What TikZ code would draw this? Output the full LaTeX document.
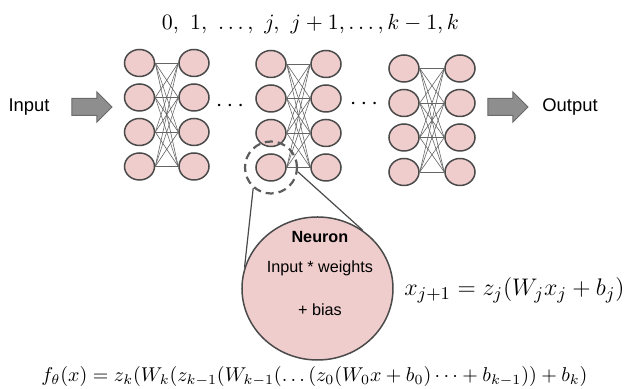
\documentclass[tikz,border=0pt]{standalone}
\usepackage{amsmath,amssymb}
\usepackage{fontspec}
\setsansfont{Liberation Sans}
\usetikzlibrary{positioning,shapes.geometric,calc}
\definecolor{cellfill}{HTML}{F0CDCD}
\definecolor{cellline}{HTML}{4A4A4A}
\definecolor{flowgray}{HTML}{8E8E8E}

\begin{document}
\begin{tikzpicture}[x=0.5pt,y=-0.5pt,
  unit/.style={ellipse, draw=cellline, fill=cellfill, line width=0.75pt, minimum width=15pt, minimum height=13.5pt, inner sep=0pt},
  wire/.style={draw=cellline!85, line width=0.3pt},
  flowshape/.style={draw=flowgray!75!black, fill=flowgray, line width=0.5pt},
  lbl/.style={font=\sffamily\fontsize{9.2}{11}\selectfont, inner sep=0pt},
  ntext/.style={font=\sffamily\fontsize{8.1}{10}\selectfont, inner sep=0pt},
  mathtxt/.style={font=\fontsize{#1}{14}\selectfont, inner sep=0pt},
  mathtxt/.default=12]
  \useasboundingbox (0,0) rectangle (629,389);

  % layers of units, fully wired
  \foreach \l/\xa/\xb/\ytop in {1/139.5/194/63, 2/271/326/64, 3/404/460/68.5} {
    \foreach \r in {1,...,4} {
      \node[unit] (a\l-\r) at (\xa,{\ytop+34.5*(\r-1)}) {};
      \node[unit] (b\l-\r) at (\xb,{\ytop+34.5*(\r-1)}) {};
    }
    \foreach \r in {1,...,4}
      \foreach \s in {1,...,4}
        \draw[wire] (a\l-\r.east) -- (b\l-\s.west);
  }
  \node[mathtxt] (gapa) at (232,106) {$\cdots$};
  \node[mathtxt] (gapb) at (366,104) {$\cdots$};
  \node[mathtxt=11.4] (layeridx) at (310.5,24) {$0,\ 1,\ \ldots,\ j,\ j+1,\ldots,k-1,k$};

  % input and output
  \node[lbl] (inlabel) at (29,107) {Input};
  \node[lbl] (outlabel) at (570,107) {Output};
  \coordinate (inflow) at (72,107);
  \coordinate (outflow) at (488,107);
  \foreach \c in {inflow,outflow}
    \draw[flowshape] (\c) ++(0,-8.5) -- ++(25,0) -- ++(0,-6.5) -- ++(15,15) -- ++(-15,15) -- ++(0,-6.5) -- ++(-25,0) -- cycle;

  % one unit blown up
  \node[circle, draw=cellline!90, dashed, line width=1.1pt, dash pattern=on 4pt off 2.5pt, minimum size=26pt] (zoomring) at (a2-4) {};
  \node[ellipse, draw=cellline, fill=cellfill, line width=0.75pt, minimum width=75.5pt, minimum height=71.5pt] (neuron) at (317.5,288.5) {};
  \draw[cellline, line width=0.6pt] (zoomring.229) -- (neuron.164);
  \draw[cellline, line width=0.6pt] (zoomring.351) -- (neuron.52);
  \node[ntext, font=\sffamily\bfseries\fontsize{8.1}{10}\selectfont] (ntitle) at ([xshift=1.2pt,yshift=25.75pt]neuron.center) {Neuron};
  \node[ntext] (nweights) at ([xshift=1.2pt,yshift=10.25pt]neuron.center) {Input * weights};
  \node[ntext] (nbias) at ([xshift=1.2pt,yshift=-10.75pt]neuron.center) {+ bias};

  \node[mathtxt=12.7] (steprule) at (514.5,290) {$x_{j+1} = z_j(W_jx_j+b_j)$};
  \node[mathtxt=10.3] (fullmap) at (314.5,377) {$f_\theta(x) = z_k(W_k(z_{k-1}(W_{k-1}(\ldots(z_0(W_0x+b_0)\cdots+b_{k-1}))+b_k)$};
\end{tikzpicture}
\end{document}
